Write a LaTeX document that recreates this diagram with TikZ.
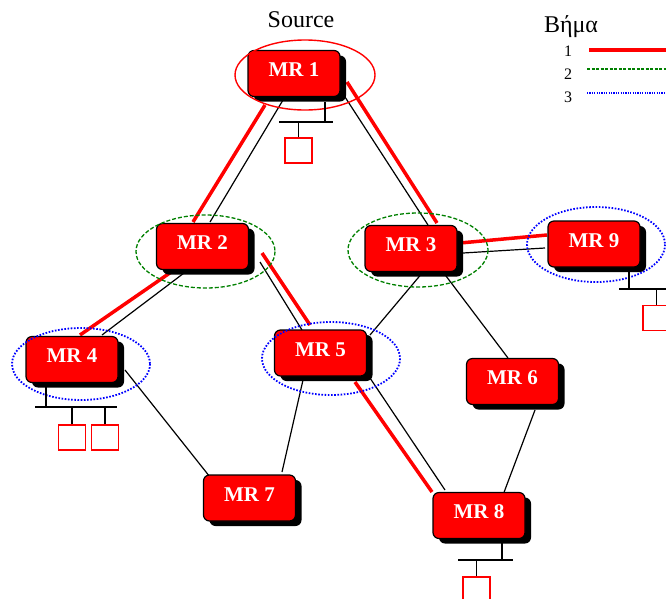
\documentclass[tikz,border=0pt]{standalone}
\usepackage{fontspec}
\setmainfont{Liberation Serif}
\usetikzlibrary{calc,shadows,backgrounds}

\definecolor{ringgreen}{RGB}{0,128,0}

\begin{document}
\begin{tikzpicture}[x=1pt,y=-1pt,
  router/.style={draw=black, line width=1.2pt, fill=red, rounded corners=6pt,
    minimum width=92pt, minimum height=46pt, inner sep=0pt, text=white, text depth=7pt,
    font=\fontsize{21}{21}\selectfont\bfseries,
    general shadow={fill=black, shadow xshift=6pt, shadow yshift=-5pt, rounded corners=6pt}},
  link/.style={black, line width=1.2pt},
  route/.style={red, line width=3.5pt},
  hopone/.style={red, line width=1.4pt},
  hoptwo/.style={ringgreen, line width=1.3pt, dash pattern=on 4pt off 2pt},
  hopthree/.style={blue, line width=1.8pt, dash pattern=on 1.6pt off 1.6pt},
  bus/.style={black, line width=1.6pt},
  host/.style={draw=red, line width=1.3pt, minimum width=27pt, minimum height=25pt, inner sep=0pt},
  lbl/.style={font=\fontsize{16}{16}\selectfont, inner sep=0pt},
]
\clip (0,0) rectangle (666,598);

% routers
\node[router] (MR1) at (294,73.5)  {MR 1};
\node[router] (MR2) at (202.5,246.5) {MR 2};
\node[router] (MR3) at (411,248.5) {MR 3};
\node[router] (MR9) at (594,244)   {MR 9};
\node[router] (MR4) at (72,359.5)  {MR 4};
\node[router] (MR5) at (320.5,353) {MR 5};
\node[router] (MR6) at (512.5,381.5) {MR 6};
\node[router] (MR7) at (249.5,498) {MR 7};
\node[router] (MR8) at (479,515.5) {MR 8};

\node[font=\fontsize{24}{24}\selectfont, inner sep=0pt] (src) at (301,20) {Source};

% links and the route taken
\begin{scope}[on background layer]
  \draw[link]  ($(MR1)+(-11,26.5)$) -- ($(MR2)+(7.5,-24.5)$);
  \draw[route] ($(MR1)+(-29,31.5)$) -- ($(MR2)+(-9.5,-24.5)$);
  \draw[link]  ($(MR1)+(51,23.5)$)  -- ($(MR3)+(17,-23.5)$);
  \draw[route] ($(MR1)+(53,8.5)$)   -- ($(MR3)+(26,-25.5)$);
  \draw[link]  ($(MR2)+(-14.5,23.5)$) -- ($(MR4)+(30,-24.5)$);
  \draw[route] ($(MR2)+(-25.5,21.5)$) -- ($(MR4)+(8,-24.5)$);
  \draw[link]  ($(MR2)+(57.5,15.5)$) -- ($(MR5)+(-18.5,-23)$);
  \draw[route] ($(MR2)+(59.5,6.5)$)  -- ($(MR5)+(-10.5,-28)$);
  \draw[route] ($(MR3)+(49,-5.5)$)   -- ($(MR9)+(-47,-9)$);
  \draw[link]  ($(MR3)+(52,4.5)$)    -- ($(MR9)+(-49,4)$);
  \draw[link]  ($(MR3)+(12,23.5)$)   -- ($(MR5)+(49.5,-18)$);
  \draw[link]  ($(MR3)+(32,23.5)$)   -- ($(MR6)+(-4.5,-23.5)$);
  \draw[link]  ($(MR4)+(53,10.5)$)   -- ($(MR7)+(-39.5,-21)$);
  \draw[link]  ($(MR5)+(-17.5,27)$)  -- ($(MR7)+(32.5,-26)$);
  \draw[link]  ($(MR5)+(49.5,25)$)   -- ($(MR8)+(-34,-25.5)$);
  \draw[route] ($(MR5)+(34.5,29)$)   -- ($(MR8)+(-47,-23.5)$);
  \draw[link]  ($(MR6)+(22.5,28.5)$) -- ($(MR8)+(24,-20.5)$);
\end{scope}

% flooding rings
\draw[hopone]   ($(MR1)+(11,1.5)$)  ellipse [x radius=70, y radius=35];
\draw[hoptwo]   ($(MR2)+(3,5)$)     ellipse [x radius=69.5, y radius=36.5];
\draw[hoptwo]   ($(MR3)+(7,1.5)$)   ellipse [x radius=70, y radius=37];
\draw[hopthree] ($(MR9)+(2,0.5)$)   ellipse [x radius=69, y radius=37.5];
\draw[hopthree] ($(MR4)+(9,4.5)$)   ellipse [x radius=69, y radius=36];
\draw[hopthree] ($(MR5)+(10.5,5.5)$) ellipse [x radius=69, y radius=36.5];

% attached hosts
\node[host] (h1)  at (298.5,150.5) {};
\node[host] (h9)  at (656.5,318) {};
\node[host] (h4a) at (72,437.5) {};
\node[host] (h4b) at (105,437.5) {};
\node[host] (h8)  at (476.5,589.5) {};

\coordinate (b1l) at (279,122); \coordinate (b1r) at (333,122);
\coordinate (b9l) at (619,289); \coordinate (b9r) at (670,289);
\coordinate (b4l) at (35,407);  \coordinate (b4r) at (117,407);
\coordinate (b8l) at (458,560); \coordinate (b8r) at (513,560);

\draw[bus] ($(MR1)+(31,28.5)$) -- ($(MR1)+(31,48.5)$);
\draw[bus] (b1l) -- (b1r);
\draw[bus] (h1.north) -- (h1.north |- b1l);

\draw[bus] ($(MR9)+(35,28)$) -- ($(MR9)+(35,45)$);
\draw[bus] (b9l) -- (b9r);
\draw[bus] (h9.north) -- (h9.north |- b9l);

\draw[bus] ($(MR4)+(-26,26.5)$) -- ($(MR4)+(-26,47.5)$);
\draw[bus] (b4l) -- (b4r);
\draw[bus] (h4a.north) -- (h4a.north |- b4l);
\draw[bus] (h4b.north) -- (h4b.north |- b4l);

\draw[bus] ($(MR8)+(23,27.5)$) -- ($(MR8)+(23,44.5)$);
\draw[bus] (b8l) -- (b8r);
\draw[bus] (h8.north) -- (h8.north |- b8l);

% legend
\node[font=\fontsize{24}{24}\selectfont, inner sep=0pt] (leg) at (571,27) {Βήμα};
\node[lbl] (k1) at (568,51) {1};
\node[lbl] (k2) at (568,74) {2};
\node[lbl] (k3) at (568,97) {3};
\coordinate (e1) at (668,50);
\coordinate (e2) at (668,69);
\coordinate (e3) at (668,93);
\draw[red, line width=3.5pt] (589,50) -- (e1);
\draw[ringgreen, line width=1.3pt, dash pattern=on 3pt off 1.5pt] (587,69) -- (e2);
\draw[blue, line width=1.3pt, dash pattern=on 1.2pt off 1.2pt] (587,93) -- (e3);
\end{tikzpicture}
\end{document}
